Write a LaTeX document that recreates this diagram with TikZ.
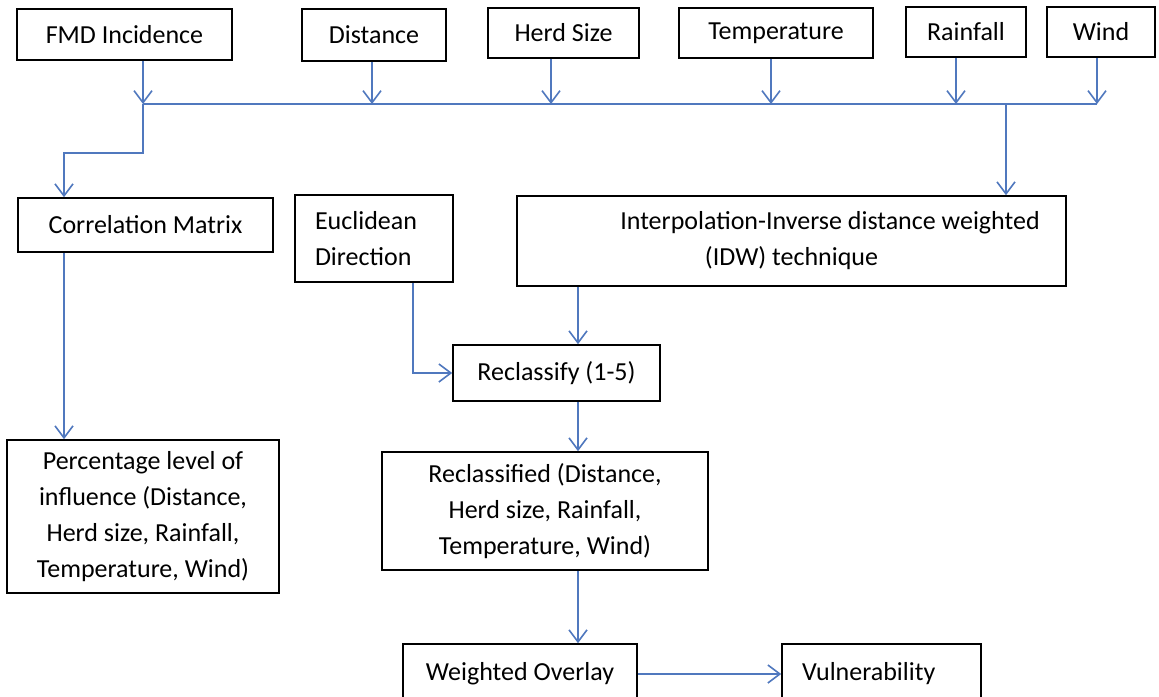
\documentclass[tikz,border=0pt]{standalone}
\usepackage{fontspec}
\setmainfont{Carlito}
\usetikzlibrary{arrows.meta}
\definecolor{flowblue}{RGB}{80,120,190}
\tikzset{
  box/.style={rectangle,draw,line width=0.8pt,align=center,inner sep=2pt,font=\fontsize{13}{18}\selectfont},
  line/.style={-{Straight Barb[length=6pt,width=9pt]},draw=flowblue,line width=0.8pt},
  wire/.style={draw=flowblue,line width=0.8pt}
}

\begin{document}
\begin{tikzpicture}[x=0.5pt,y=-0.5pt]
\clip (0,0) rectangle (1159,696);
\fill[white] (0,0) rectangle (1159,696);
% input layers
\node[box, minimum width=107.5pt, minimum height=25.5pt] (fmd) at (124.5,34.5) {FMD Incidence};
\node[box, minimum width=72pt, minimum height=26pt] (dist) at (374,35) {Distance};
\node[box, minimum width=75.5pt, minimum height=25pt] (herd) at (563.5,33) {Herd Size};
\node[box, minimum width=97pt, minimum height=25pt] (temp) at (776,33) {Temperature};
\node[box, minimum width=60pt, minimum height=25pt] (rain) at (966,32) {Rainfall};
\node[box, minimum width=54pt, minimum height=25pt] (wind) at (1101,32) {Wind};
% processing
\node[box, minimum width=127.5pt, minimum height=27pt] (corr) at (145.5,225) {Correlation Matrix};
\node[box, minimum width=79pt, minimum height=43.5pt, align=left, text width=59pt] (eucl) at (374,238.5) {Euclidean\\Direction};
\node[box, minimum width=274.5pt, minimum height=45pt] (idw) at (791.5,241) {\hspace*{38.5pt}Interpolation-Inverse distance weighted\\(IDW) technique};
\node[box, minimum width=103.5pt, minimum height=28pt] (recl) at (556.5,373) {Reclassify (1-5)};
\node[box, minimum width=136pt, minimum height=76.5pt] (pct) at (143,516.5) {Percentage level of\\influence (Distance,\\Herd size, Rainfall,\\Temperature, Wind)};
\node[box, minimum width=163pt, minimum height=59pt] (rcd) at (545,511) {Reclassified (Distance,\\Herd size, Rainfall,\\Temperature, Wind)};
\node[box, minimum width=117pt, minimum height=30pt] (wo) at (520,674) {Weighted Overlay};
\node[box, minimum width=99.5pt, minimum height=30pt, align=left, text width=79.5pt] (vul) at (881.5,674) {Vulnerability};
% bus taps
\coordinate (t-fmd) at (143,104);
\coordinate (t-dist) at (372,104);
\coordinate (t-herd) at (551,104);
\coordinate (t-temp) at (771,104);
\coordinate (t-rain) at (956,104);
\coordinate (t-wind) at (1097,104);
\coordinate (t-idw) at (1006,104);
\coordinate (k1) at (143,153);
\coordinate (k2) at (64,153);
\coordinate (axis) at (578,0);
% connectors
\draw[line] (fmd.south -| t-fmd) -- (t-fmd);
\draw[line] (dist.south -| t-dist) -- (t-dist);
\draw[line] (herd.south -| t-herd) -- (t-herd);
\draw[line] (temp.south -| t-temp) -- (t-temp);
\draw[line] (rain.south -| t-rain) -- (t-rain);
\draw[line] (wind.south -| t-wind) -- (t-wind);
\draw[wire] (t-fmd) -- (t-wind);
\draw[line] (t-fmd) -- (k1) -- (k2) -- (corr.north -| k2);
\draw[line] (t-idw) -- (idw.north -| t-idw);
\draw[line] (corr.south -| k2) -- (pct.north -| k2);
\draw[line] ([xshift=19.5pt]eucl.south) |- (recl.west);
\draw[line] (idw.south -| axis) -- (recl.north -| axis);
\draw[line] (recl.south -| axis) -- (rcd.north -| axis);
\draw[line] (rcd.south -| axis) -- (wo.north -| axis);
\draw[line] (wo.east) -- (vul.west);
\end{tikzpicture}
\end{document}
